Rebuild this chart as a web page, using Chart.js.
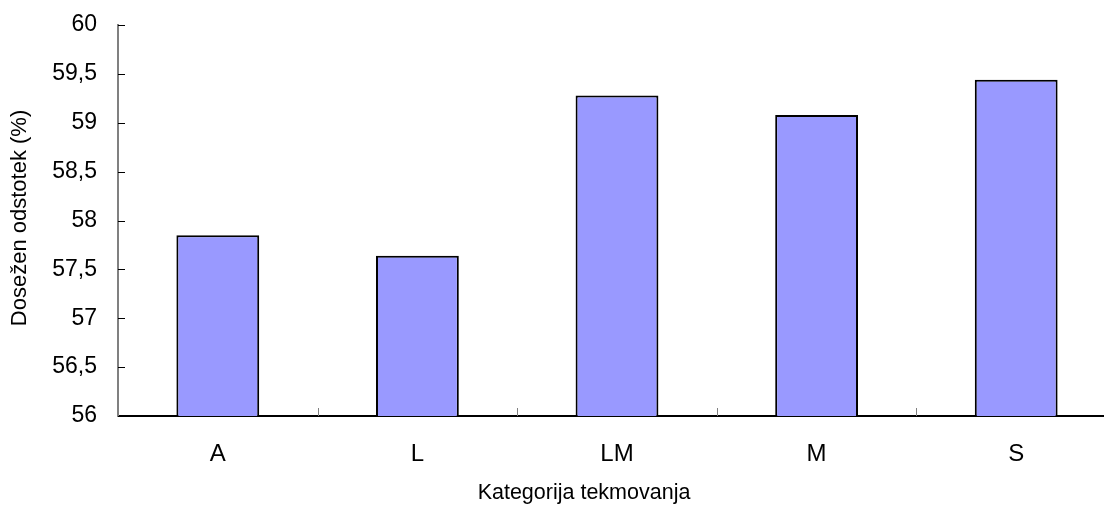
<!DOCTYPE html>
<html>
<head>
<meta charset="utf-8">
<script src="https://cdn.jsdelivr.net/npm/chart.js@4/dist/chart.umd.min.js"></script>
<style>
  html, body { margin: 0; padding: 0; background: #fff; overflow: hidden; }
  #wrap { width: 1120px; height: 505px; position: relative; }
</style>
</head>
<body>
<div id="wrap"><canvas id="c"></canvas></div>
<script>
const categories = ['A', 'L', 'LM', 'M', 'S'];
const values = [57.85, 57.64, 59.28, 59.08, 59.44];
const yMin = 56, yMax = 60, yStep = 0.5;
const xTitle = 'Kategorija tekmovanja';
const yTitle = 'Dosežen odstotek (%)';

const FONT = '"Liberation Sans", Arial, sans-serif';

// Inward tick marks and axis titles
const axisDecor = {
  id: 'axisDecor',
  afterDraw(chart) {
    const { ctx, chartArea: a, scales } = chart;
    const y = scales.y, x = scales.x;
    ctx.save();
    ctx.strokeStyle = '#000';
    ctx.lineWidth = 1;
    for (let v = yMin; v <= yMax + 1e-9; v += yStep) {
      const py = Math.round(y.getPixelForValue(v)) + 0.5;
      ctx.beginPath();
      ctx.moveTo(a.left, py);
      ctx.lineTo(a.left + 7, py);
      ctx.stroke();
    }
    ctx.strokeStyle = '#808080';
    for (let i = 1; i < categories.length; i++) {
      const px = Math.round((x.getPixelForTick(i - 1) + x.getPixelForTick(i)) / 2) + 0.5;
      ctx.beginPath();
      ctx.moveTo(px, a.bottom);
      ctx.lineTo(px, a.bottom - 8);
      ctx.stroke();
    }
    ctx.fillStyle = '#000';
    ctx.textAlign = 'center';
    ctx.textBaseline = 'middle';
    ctx.font = '21.5px ' + FONT;
    ctx.fillText(xTitle, 584, 493);
    ctx.font = '22px ' + FONT;
    ctx.translate(20, 218);
    ctx.rotate(-Math.PI / 2);
    ctx.fillText(yTitle, 0, 0);
    ctx.restore();
  }
};

new Chart(document.getElementById('c'), {
  type: 'bar',
  data: {
    labels: categories,
    datasets: [{
      data: values,
      backgroundColor: '#9999FF',
      borderColor: '#000',
      borderWidth: 2,
      borderSkipped: 'bottom',
      categoryPercentage: 1,
      barPercentage: 0.415
    }]
  },
  options: {
    responsive: true,
    maintainAspectRatio: false,
    animation: false,
    layout: { autoPadding: false, padding: { left: 0, top: 25, right: 4, bottom: 0 } },
    plugins: { legend: { display: false }, tooltip: { enabled: false } },
    scales: {
      x: {
        grid: { display: false, drawTicks: false },
        border: { display: true, color: '#000', width: 2 },
        ticks: { color: '#000', font: { family: FONT, size: 24 }, padding: 24, maxRotation: 0 },
        afterFit(s) { s.height = 89; s.paddingLeft = 0; s.paddingRight = 0; }
      },
      y: {
        min: yMin, max: yMax,
        grid: { display: false, drawTicks: false },
        border: { display: true, color: '#808080', width: 2 },
        ticks: {
          stepSize: yStep,
          color: '#000',
          font: { family: FONT, size: 23 },
          padding: 21,
          callback: v => String(v).replace('.', ',')
        },
        afterFit(s) { s.width = 118; s.paddingTop = 0; s.paddingBottom = 0; }
      }
    }
  },
  plugins: [axisDecor]
});
</script>
</body>
</html>
